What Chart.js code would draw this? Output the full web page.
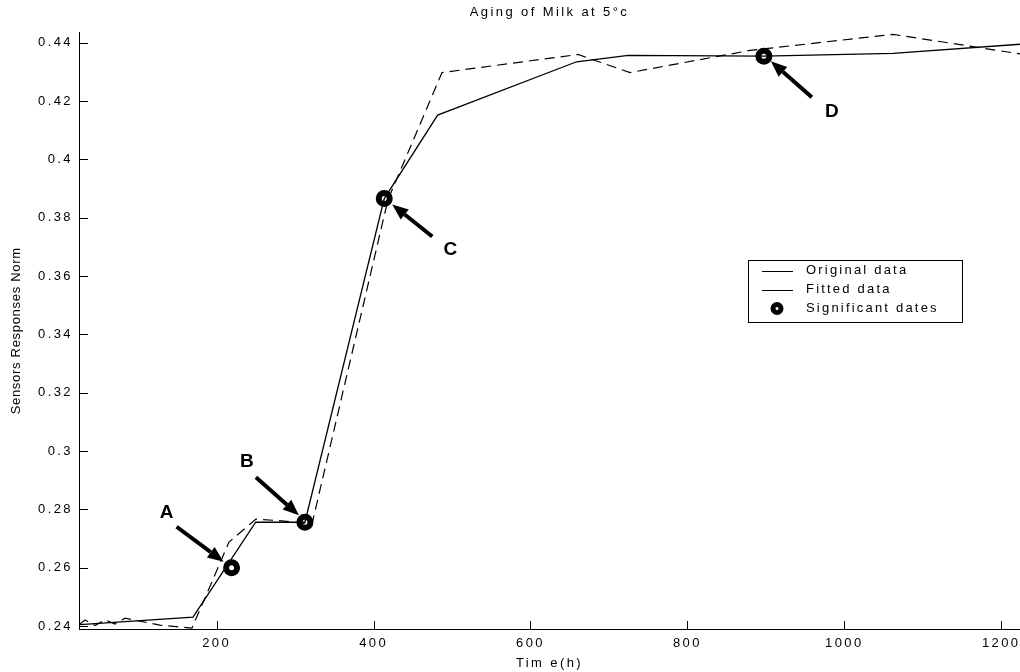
<!DOCTYPE html>
<html>
<head>
<meta charset="utf-8">
<title>Aging of Milk at 5°c</title>
<script src="https://cdn.jsdelivr.net/npm/chart.js@4.4.1/dist/chart.umd.min.js"></script>
<style>
    html, body { margin: 0; padding: 0; background: #fff; }
    #milkChart { display: block; }
</style>
</head>
<body>
<canvas id="milkChart" width="1020" height="672"></canvas>
<script>
// Original sensor readings (time in hours, normalised response)
const origTime = [25.8, 32.2, 45, 57.6, 70.4, 83.1, 102.2, 127.7, 168.5, 215.7, 250.1, 276.9, 321.5, 418.3, 487.2, 660.6, 726.9, 879.9, 1062.2, 1224];
const origResp = [0.2407, 0.2421, 0.2402, 0.2422, 0.2407, 0.2427, 0.2417, 0.2403, 0.2393, 0.2688, 0.2767, 0.2762, 0.2750, 0.3862, 0.4298, 0.4360, 0.4298, 0.4374, 0.4429, 0.4362];

// Fitted curve
const fitTime = [25.8, 169.8, 249.7, 312.5, 413.6, 481.7, 658.8, 724.6, 897.5, 1062, 1224];
const fitResp = [0.2405, 0.2431, 0.2756, 0.2756, 0.3866, 0.4152, 0.4335, 0.4357, 0.4354, 0.4364, 0.4395];

// Significant dates
const sigLabels = ['A', 'B', 'C', 'D'];
const sigTime = [219, 312.5, 413.6, 897.5];
const sigResp = [0.2600, 0.2756, 0.3866, 0.4354];

// Axis ticks
const xTicks = [200, 400, 600, 800, 1000, 1200];
const yTicks = [0.24, 0.26, 0.28, 0.3, 0.32, 0.34, 0.36, 0.38, 0.4, 0.42, 0.44];

const FONT = "'Liberation Sans', Arial, Helvetica, sans-serif";
Chart.defaults.color = '#000';
Chart.defaults.font.family = FONT;

function toPoints(xs, ys) {
    return xs.map((x, i) => ({ x: x, y: ys[i] }));
}

// Matlab-ish spaced lettering for ticks and titles
const spacingPlugin = {
    id: 'spacing',
    beforeDraw(chart) { chart.ctx.letterSpacing = '2.4px'; },
    afterDraw(chart) { chart.ctx.letterSpacing = '0px'; },
    afterLayout(chart) {
        const y = chart.scales.y;
        if (y && !y._plainTitle) {
            const orig = y.drawTitle.bind(y);
            y.drawTitle = function () {
                const c = this.ctx;
                const ls = c.letterSpacing;
                c.letterSpacing = '0.7px';
                orig();
                c.letterSpacing = ls;
            };
            y._plainTitle = true;
        }
    }
};

// Inward tick marks
const tickMarks = {
    id: 'tickMarks',
    afterDatasetsDraw(chart) {
        const { ctx, chartArea: a, scales: { x, y } } = chart;
        ctx.save();
        ctx.strokeStyle = '#000';
        ctx.lineWidth = 1;
        ctx.beginPath();
        x.ticks.forEach(t => {
            const px = Math.round(x.getPixelForValue(t.value)) + 0.5;
            ctx.moveTo(px, a.bottom);
            ctx.lineTo(px, a.bottom - 8);
        });
        y.ticks.forEach(t => {
            const py = Math.round(y.getPixelForValue(t.value)) + 0.5;
            ctx.moveTo(a.left, py);
            ctx.lineTo(a.left + 9, py);
        });
        ctx.stroke();
        ctx.restore();
    }
};

// Arrows + letters pointing at the significant dates
const arrowNotes = {
    id: 'arrowNotes',
    afterDatasetsDraw(chart, args, opts) {
        const ctx = chart.ctx;
        const meta = chart.getDatasetMeta(2);
        ctx.save();
        ctx.letterSpacing = '0px';
        meta.data.forEach((pt, i) => {
            const tip = opts.tips[i], tail = opts.tails[i], lab = opts.labels[i];
            const tipX = pt.x + tip[0], tipY = pt.y + tip[1];
            const tailX = pt.x + tail[0], tailY = pt.y + tail[1];
            const dx = tipX - tailX, dy = tipY - tailY;
            const len = Math.hypot(dx, dy);
            const ux = dx / len, uy = dy / len;
            const bx = tipX - ux * 16, by = tipY - uy * 16;

            ctx.strokeStyle = '#000';
            ctx.fillStyle = '#000';
            ctx.lineWidth = 4;
            ctx.beginPath();
            ctx.moveTo(tailX, tailY);
            ctx.lineTo(bx, by);
            ctx.stroke();

            ctx.beginPath();
            ctx.moveTo(tipX, tipY);
            ctx.lineTo(bx - uy * 6.5, by + ux * 6.5);
            ctx.lineTo(bx + uy * 6.5, by - ux * 6.5);
            ctx.closePath();
            ctx.fill();

            ctx.font = 'bold 19px ' + FONT;
            ctx.textAlign = 'center';
            ctx.textBaseline = 'middle';
            ctx.fillText(sigLabels[i], pt.x + lab[0], pt.y + lab[1]);
        });
        ctx.restore();
    }
};

// Boxed legend inside the plot
const boxLegend = {
    id: 'boxLegend',
    afterDraw(chart, args, opts) {
        const { ctx, chartArea: a } = chart;
        const x0 = Math.round(a.left + opts.left), y0 = Math.round(a.top + opts.top);
        ctx.save();
        ctx.fillStyle = '#fff';
        ctx.fillRect(x0, y0, opts.width, opts.height);
        ctx.strokeStyle = '#000';
        ctx.lineWidth = 1;
        ctx.strokeRect(x0 + 0.5, y0 + 0.5, opts.width, opts.height);

        ctx.font = '13px ' + FONT;
        ctx.letterSpacing = '2.2px';
        ctx.textBaseline = 'middle';
        ctx.textAlign = 'left';
        chart.data.datasets.forEach((ds, i) => {
            const cy = y0 + 10.5 + i * 19;
            if (ds.showLine === false) {
                ctx.beginPath();
                ctx.arc(x0 + 29, cy, 4, 0, Math.PI * 2);
                ctx.lineWidth = 5;
                ctx.strokeStyle = '#000';
                ctx.stroke();
            } else {
                ctx.beginPath();
                ctx.moveTo(x0 + 14, Math.round(cy) + 0.5);
                ctx.lineTo(x0 + 45, Math.round(cy) + 0.5);
                ctx.lineWidth = 1;
                ctx.strokeStyle = '#000';
                ctx.stroke();
            }
            ctx.fillStyle = '#000';
            ctx.fillText(ds.label, x0 + 58, cy);
        });
        ctx.restore();
    }
};

new Chart(document.getElementById('milkChart'), {
    type: 'line',
    data: {
        datasets: [
            {
                label: 'Original data',
                data: toPoints(origTime, origResp),
                borderColor: '#000',
                borderWidth: 1.2,
                borderDash: [10, 6],
                pointRadius: 0,
                fill: false,
                tension: 0
            },
            {
                label: 'Fitted data',
                data: toPoints(fitTime, fitResp),
                borderColor: '#000',
                borderWidth: 1.3,
                pointRadius: 0,
                fill: false,
                tension: 0
            },
            {
                label: 'Significant dates',
                data: toPoints(sigTime, sigResp),
                showLine: false,
                pointStyle: 'circle',
                pointRadius: 5.5,
                pointBorderWidth: 6,
                pointBorderColor: '#000',
                pointBackgroundColor: '#fff'
            }
        ]
    },
    options: {
        responsive: false,
        animation: false,
        events: [],
        layout: { padding: 0, autoPadding: false },
        scales: {
            x: {
                type: 'linear',
                min: 24.5,
                max: 1224,
                afterBuildTicks: s => { s.ticks = xTicks.map(v => ({ value: v })); },
                afterFit: s => { s.height = 43; s.paddingLeft = 0; s.paddingRight = 0; },
                grid: { display: false, drawTicks: false },
                border: { display: true, color: '#000', width: 1 },
                ticks: {
                    autoSkip: false,
                    maxRotation: 0,
                    padding: 7,
                    font: { size: 13 },
                    color: '#000',
                    callback: v => String(v)
                },
                title: {
                    display: true,
                    text: 'Tim e(h)',
                    font: { size: 13 },
                    color: '#000',
                    padding: { top: 0, bottom: 1 }
                }
            },
            y: {
                type: 'linear',
                min: 0.239,
                max: 0.4435,
                afterBuildTicks: s => { s.ticks = yTicks.map(v => ({ value: v })); },
                afterFit: s => { s.width = 79; s.paddingTop = 0; s.paddingBottom = 0; },
                grid: { display: false, drawTicks: false },
                border: { display: true, color: '#000', width: 1 },
                ticks: {
                    padding: 6,
                    font: { size: 13 },
                    color: '#000',
                    callback: v => String(v)
                },
                title: {
                    display: true,
                    text: 'Sensors Responses Norm',
                    font: { size: 13 },
                    color: '#000',
                    padding: { top: 9, bottom: 0 }
                }
            }
        },
        plugins: {
            legend: { display: false },
            tooltip: { enabled: false },
            title: {
                display: true,
                text: 'Aging of Milk at 5°c',
                fullSize: false,
                color: '#000',
                font: { size: 13, weight: 'normal' },
                padding: { top: 5, bottom: 12 }
            },
            arrowNotes: {
                tips: [[-8, -6], [-6, -7], [8, 6], [7, 5]],
                tails: [[-55, -41], [-49, -45], [48, 38], [48, 41]],
                labels: [[-65, -55], [-58, -60], [66, 51], [68, 56]]
            },
            boxLegend: { left: 669, top: 227, width: 214, height: 62 }
        }
    },
    plugins: [spacingPlugin, tickMarks, arrowNotes, boxLegend]
});
</script>
</body>
</html>
